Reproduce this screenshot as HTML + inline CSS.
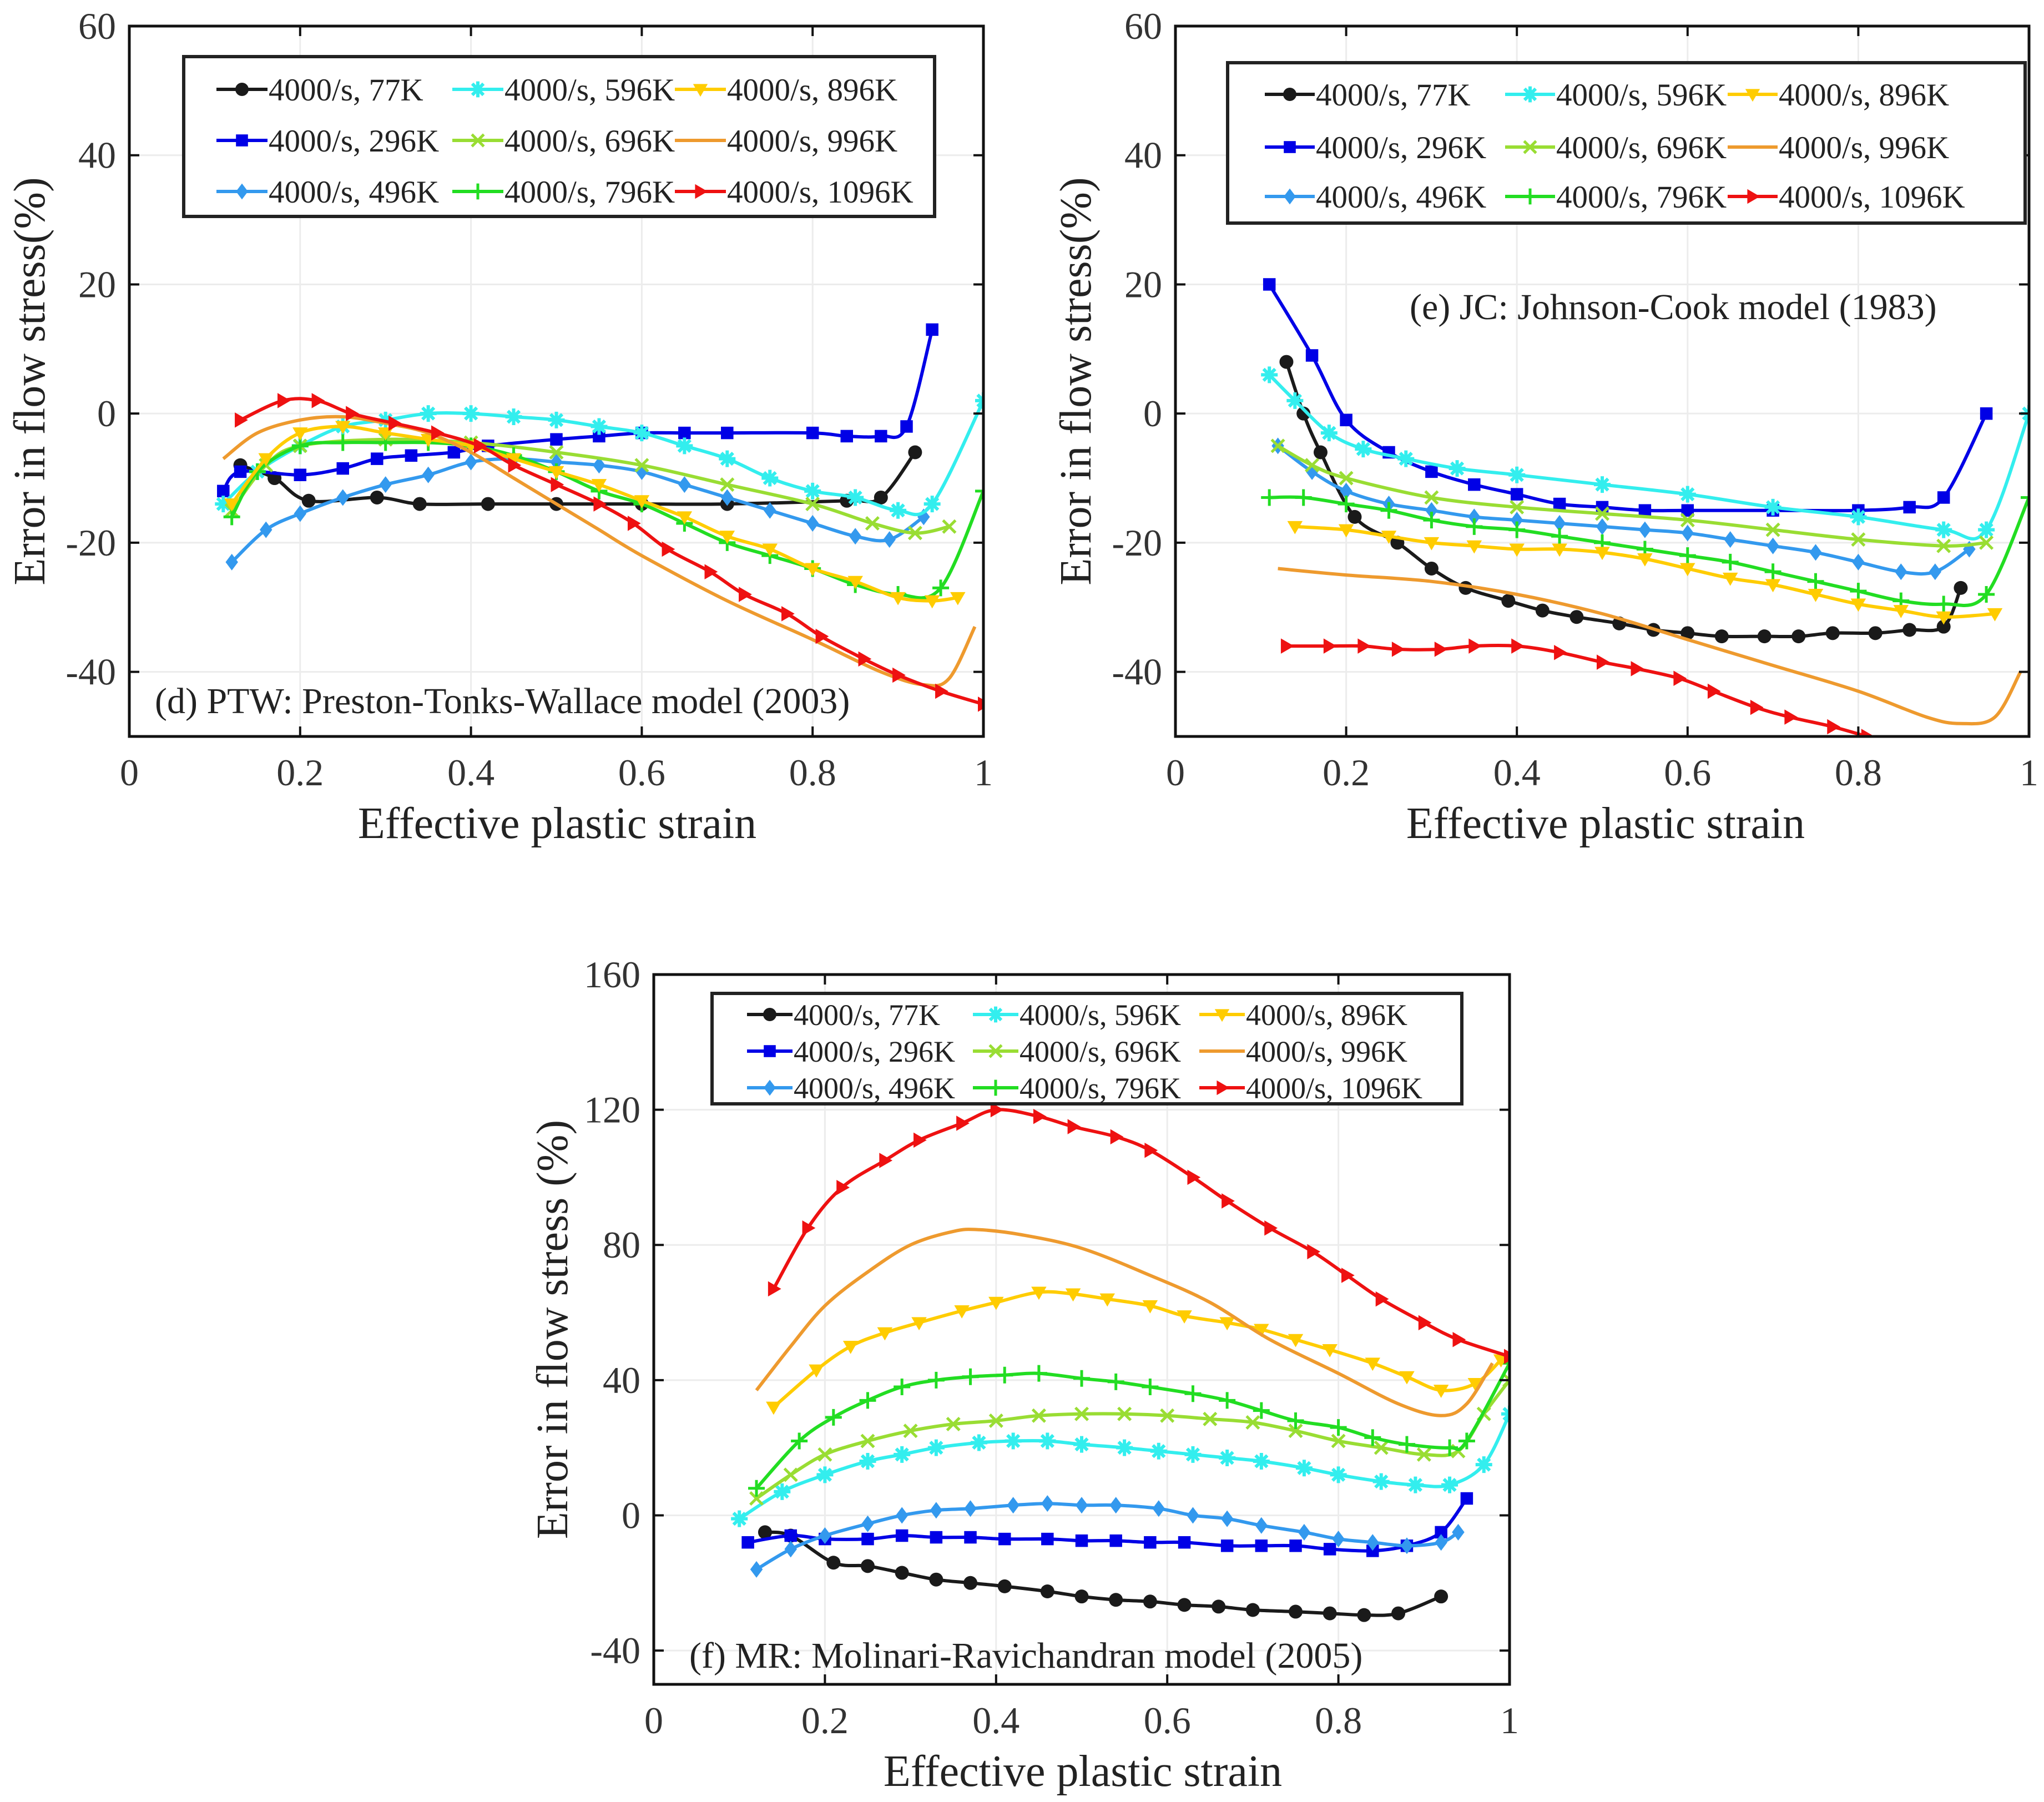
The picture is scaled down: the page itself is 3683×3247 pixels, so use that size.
<!DOCTYPE html>
<html><head><meta charset="utf-8">
<style>
html,body{margin:0;padding:0;background:#fff;}
svg{display:block;font-family:"Liberation Serif",serif;}
</style></head>
<body>
<svg id="fig" width="3683" height="3247" viewBox="0 0 3683 3247" xmlns="http://www.w3.org/2000/svg"></svg>
<script>
// ---- data ----
const seriesNames = ["4000/s, 77K","4000/s, 296K","4000/s, 496K","4000/s, 596K","4000/s, 696K","4000/s, 796K","4000/s, 896K","4000/s, 996K","4000/s, 1096K"];
const xTicks = [0,0.2,0.4,0.6,0.8,1];
const xTickLabels = ["0","0.2","0.4","0.6","0.8","1"];
const yTicksDE = [-40,-20,0,20,40,60];
const yTicksF = [-40,0,40,80,120,160];

// panel d (PTW)
const dX = [
 [0.13,0.17,0.21,0.29,0.34,0.42,0.5,0.6,0.7,0.84,0.88,0.92],
 [0.11,0.13,0.2,0.25,0.29,0.33,0.38,0.42,0.5,0.55,0.6,0.65,0.7,0.8,0.84,0.88,0.91,0.94],
 [0.12,0.16,0.2,0.25,0.3,0.35,0.4,0.45,0.5,0.55,0.6,0.65,0.7,0.75,0.8,0.85,0.89,0.93],
 [0.11,0.15,0.2,0.25,0.3,0.35,0.4,0.45,0.5,0.55,0.6,0.65,0.7,0.75,0.8,0.85,0.9,0.94,1.0],
 [0.12,0.16,0.2,0.3,0.4,0.5,0.6,0.7,0.8,0.87,0.92,0.96],
 [0.12,0.15,0.2,0.25,0.3,0.35,0.4,0.45,0.5,0.55,0.6,0.65,0.7,0.75,0.8,0.85,0.9,0.95,1.0],
 [0.12,0.16,0.2,0.25,0.3,0.35,0.4,0.45,0.5,0.55,0.6,0.65,0.7,0.75,0.8,0.85,0.9,0.94,0.97],
 [0.11,0.15,0.2,0.25,0.3,0.35,0.4,0.45,0.5,0.55,0.6,0.7,0.8,0.88,0.93,0.96,0.99],
 [0.13,0.18,0.22,0.26,0.31,0.36,0.41,0.45,0.5,0.55,0.59,0.63,0.68,0.72,0.77,0.81,0.86,0.9,0.95,1.0]
];
const dY = [
 [-8,-10,-13.5,-13,-14,-14,-14,-14,-14,-13.5,-13,-6],
 [-12,-9,-9.5,-8.5,-7,-6.5,-6,-5,-4,-3.5,-3,-3,-3,-3,-3.5,-3.5,-2,13],
 [-23,-18,-15.5,-13,-11,-9.5,-7.5,-7,-7.5,-8,-9,-11,-13,-15,-17,-19,-19.5,-16],
 [-14,-9,-5,-2,-1,0,0,-0.5,-1,-2,-3,-5,-7,-10,-12,-13,-15,-14,2],
 [-15,-8,-5,-4,-4.5,-6,-8,-11,-14,-17,-18.5,-17.5],
 [-16,-9,-5,-4.5,-4.5,-4.5,-5,-6.5,-9,-12,-14,-17,-20,-22,-24,-26.5,-28,-27,-12],
 [-14,-7,-3,-2,-3,-4,-5,-7,-9,-11,-13.5,-16,-19,-21,-24,-26,-28.5,-29,-28.5],
 [-7,-3,-1,-0.5,-1.5,-3,-6,-10,-14,-18,-22,-29,-35,-40,-42,-41,-33],
 [-1,2,2,0,-1.5,-3,-5,-8,-11,-14,-17,-21,-24.5,-28,-31,-34.5,-38,-40.5,-43,-45]
];
// panel e (JC)
const eX = [
 [0.13,0.15,0.17,0.21,0.26,0.3,0.34,0.39,0.43,0.47,0.52,0.56,0.6,0.64,0.69,0.73,0.77,0.82,0.86,0.9,0.92],
 [0.11,0.16,0.2,0.25,0.3,0.35,0.4,0.45,0.5,0.55,0.6,0.7,0.8,0.86,0.9,0.95],
 [0.12,0.16,0.2,0.25,0.3,0.35,0.4,0.45,0.5,0.55,0.6,0.65,0.7,0.75,0.8,0.85,0.89,0.93],
 [0.11,0.14,0.18,0.22,0.27,0.33,0.4,0.5,0.6,0.7,0.8,0.9,0.95,1.0],
 [0.12,0.16,0.2,0.3,0.4,0.5,0.6,0.7,0.8,0.9,0.95],
 [0.11,0.15,0.2,0.25,0.3,0.35,0.4,0.45,0.5,0.55,0.6,0.65,0.7,0.75,0.8,0.85,0.9,0.95,1.0],
 [0.14,0.2,0.25,0.3,0.35,0.4,0.45,0.5,0.55,0.6,0.65,0.7,0.75,0.8,0.85,0.9,0.96],
 [0.12,0.2,0.3,0.4,0.5,0.6,0.7,0.8,0.88,0.92,0.96,0.99],
 [0.13,0.18,0.22,0.26,0.31,0.35,0.4,0.45,0.5,0.54,0.59,0.63,0.68,0.72,0.77,0.81]
];
const eY = [
 [8,0,-6,-16,-20,-24,-27,-29,-30.5,-31.5,-32.5,-33.5,-34,-34.5,-34.5,-34.5,-34,-34,-33.5,-33,-27],
 [20,9,-1,-6,-9,-11,-12.5,-14,-14.5,-15,-15,-15,-15,-14.5,-13,0],
 [-5,-9,-12,-14,-15,-16,-16.5,-17,-17.5,-18,-18.5,-19.5,-20.5,-21.5,-23,-24.5,-24.5,-21],
 [6,2,-3,-5.5,-7,-8.5,-9.5,-11,-12.5,-14.5,-16,-18,-18,0],
 [-5,-8,-10,-13,-14.5,-15.5,-16.5,-18,-19.5,-20.5,-20],
 [-13,-13,-14,-15,-16.5,-17.5,-18,-19,-20,-21,-22,-23,-24.5,-26,-27.5,-29,-29.5,-28,-13],
 [-17.5,-18,-19,-20,-20.5,-21,-21,-21.5,-22.5,-24,-25.5,-26.5,-28,-29.5,-30.5,-31.5,-31],
 [-24,-25,-26,-28,-31,-35,-39,-43,-47,-48,-47,-40],
 [-36,-36,-36,-36.5,-36.5,-36,-36,-37,-38.5,-39.5,-41,-43,-45.5,-47,-48.5,-50]
];
// panel f (MR)
const fX = [
 [0.13,0.16,0.21,0.25,0.29,0.33,0.37,0.41,0.46,0.5,0.54,0.58,0.62,0.66,0.7,0.75,0.79,0.83,0.87,0.92],
 [0.11,0.16,0.2,0.25,0.29,0.33,0.37,0.41,0.46,0.5,0.54,0.58,0.62,0.67,0.71,0.75,0.79,0.84,0.88,0.92,0.95],
 [0.12,0.16,0.2,0.25,0.29,0.33,0.37,0.42,0.46,0.5,0.54,0.59,0.63,0.67,0.71,0.76,0.8,0.84,0.88,0.92,0.94],
 [0.1,0.15,0.2,0.25,0.29,0.33,0.38,0.42,0.46,0.5,0.55,0.59,0.63,0.67,0.71,0.76,0.8,0.85,0.89,0.93,0.97,1.0],
 [0.12,0.16,0.2,0.25,0.3,0.35,0.4,0.45,0.5,0.55,0.6,0.65,0.7,0.75,0.8,0.85,0.9,0.94,0.97,1.0],
 [0.12,0.17,0.21,0.25,0.29,0.33,0.37,0.41,0.45,0.5,0.54,0.58,0.63,0.67,0.71,0.75,0.8,0.84,0.88,0.93,0.95,1.0],
 [0.14,0.19,0.23,0.27,0.31,0.36,0.4,0.45,0.49,0.53,0.58,0.62,0.67,0.71,0.75,0.79,0.84,0.88,0.92,0.96,0.99],
 [0.12,0.16,0.2,0.25,0.3,0.35,0.38,0.43,0.5,0.58,0.65,0.72,0.8,0.87,0.92,0.95,0.98],
 [0.14,0.18,0.22,0.27,0.31,0.36,0.4,0.45,0.49,0.54,0.58,0.63,0.67,0.72,0.77,0.81,0.85,0.9,0.94,1.0]
];
const fY = [
 [-5,-6,-14,-15,-17,-19,-20,-21,-22.5,-24,-25,-25.5,-26.5,-27,-28,-28.5,-29,-29.5,-29,-24],
 [-8,-6,-7,-7,-6,-6.5,-6.5,-7,-7,-7.5,-7.5,-8,-8,-9,-9,-9,-10,-10.5,-9,-5,5],
 [-16,-10,-6,-2.5,0,1.5,2,3,3.5,3,3,2,0,-1,-3,-5,-7,-8,-9,-8,-5],
 [-1,7,12,16,18,20,21.5,22,22,21,20,19,18,17,16,14,12,10,9,9,15,30],
 [5,12,18,22,25,27,28,29.5,30,30,29.5,28.5,27.5,25,22,20,18,19,30,40],
 [8,22,29,34,38,40,41,41.5,42,40.5,39.5,38,36,34,31,28,26,23,21,20,22,45],
 [32,43,50,54,57,60.5,63,66,65.5,64,62,59,57,55,52,49,45,41,37,39,46],
 [37,50,62,72,80,84,84.5,83,79,71,63,52,42,33,29.5,33,45],
 [67,85,97,105,111,116,120,118,115,112,108,100,93,85,78,71,64,57,52,47]
];

// ---- styles ----
const colors = ["#1a1a1a","#0000e6","#3399ee","#33eeee","#99dd33","#22dd22","#ffcc00","#ee9a2e","#ee1111"];
const markers = ["circle","square","diamond","star","x","plus","tri-down","none","tri-right"];

const svg = document.getElementById('fig');
const NS = "http://www.w3.org/2000/svg";
function mk(tag, attrs, parent){
  const e = document.createElementNS(NS, tag);
  for (const k in attrs) e.setAttribute(k, attrs[k]);
  (parent||svg).appendChild(e);
  return e;
}
function smoothPath(pts){
  if(pts.length<2) return "";
  let d = "M"+pts[0][0].toFixed(1)+","+pts[0][1].toFixed(1);
  for(let i=0;i<pts.length-1;i++){
    const p0=pts[i-1]||pts[i], p1=pts[i], p2=pts[i+1], p3=pts[i+2]||p2;
    const c1=[p1[0]+(p2[0]-p0[0])/6, p1[1]+(p2[1]-p0[1])/6];
    const c2=[p2[0]-(p3[0]-p1[0])/6, p2[1]-(p3[1]-p1[1])/6];
    d+=" C"+c1[0].toFixed(1)+","+c1[1].toFixed(1)+" "+c2[0].toFixed(1)+","+c2[1].toFixed(1)+" "+p2[0].toFixed(1)+","+p2[1].toFixed(1);
  }
  return d;
}
function drawMarker(g, type, x, y, c, s){
  let e;
  if(type==="circle"){ e=mk('circle',{cx:x,cy:y,r:s*0.5,fill:c},g); }
  else if(type==="square"){ e=mk('rect',{x:x-s*0.45,y:y-s*0.45,width:s*0.9,height:s*0.9,fill:c},g); }
  else if(type==="diamond"){ e=mk('polygon',{points:`${x},${y-s*0.6} ${x+s*0.45},${y} ${x},${y+s*0.6} ${x-s*0.45},${y}`,fill:c},g); }
  else if(type==="star"){ e=mk('path',{d:`M${x-s*0.6},${y}H${x+s*0.6}M${x},${y-s*0.6}V${y+s*0.6}M${x-s*0.42},${y-s*0.42}L${x+s*0.42},${y+s*0.42}M${x-s*0.42},${y+s*0.42}L${x+s*0.42},${y-s*0.42}`,stroke:c,'stroke-width':6,fill:'none'},g); }
  else if(type==="x"){ e=mk('path',{d:`M${x-s*0.45},${y-s*0.45}L${x+s*0.45},${y+s*0.45}M${x-s*0.45},${y+s*0.45}L${x+s*0.45},${y-s*0.45}`,stroke:c,'stroke-width':5,fill:'none'},g); }
  else if(type==="plus"){ e=mk('path',{d:`M${x-s*0.6},${y}H${x+s*0.6}M${x},${y-s*0.6}V${y+s*0.6}`,stroke:c,'stroke-width':5,fill:'none'},g); }
  else if(type==="tri-down"){ e=mk('polygon',{points:`${x-s*0.55},${y-s*0.4} ${x+s*0.55},${y-s*0.4} ${x},${y+s*0.55}`,fill:c},g); }
  else if(type==="tri-right"){ e=mk('polygon',{points:`${x-s*0.4},${y-s*0.55} ${x-s*0.4},${y+s*0.55} ${x+s*0.55},${y}`,fill:c},g); }
  if(e){
    
    
  }
}

function panel(cfg){
  const {id,L,R,T,B,ymin,ymax,yTicks,Xs,Ys,ylabel,ylx,xlx,xly,note,noteX,noteY,leg,legFont} = cfg;
  const g = mk('g',{});
  
  
  const sx = v => L + v*(R-L);
  const sy = v => B - (v-ymin)/(ymax-ymin)*(B-T);
  const grid = mk('g',{},g);
  
  
  xTicks.forEach(v=>{ mk('line',{x1:sx(v),x2:sx(v),y1:T,y2:B,stroke:'#ececec','stroke-width':3},grid); });
  yTicks.forEach(v=>{ mk('line',{x1:L,x2:R,y1:sy(v),y2:sy(v),stroke:'#ececec','stroke-width':3},grid); });
  const cp = mk('clipPath',{id:'clip-'+id},g);
  mk('rect',{x:L,y:T,width:R-L,height:B-T},cp);
  const data = mk('g',{'clip-path':`url(#clip-${id})`},g);
  
  
  for(let s=0;s<seriesNames.length;s++){
    const sg = mk('g',{},data);
    
    
    const pts = Xs[s].map((x,i)=>[sx(x),sy(Ys[s][i])]);
    const p = mk('path',{d:smoothPath(pts),fill:'none',stroke:colors[s],'stroke-width':6},sg);
    
    
    pts.forEach(pt=>drawMarker(sg,markers[s],pt[0],pt[1],colors[s],25));
  }
  const ax = mk('g',{},g);
  
  
  mk('rect',{x:L,y:T,width:R-L,height:B-T,fill:'none',stroke:'#111','stroke-width':5},ax);
  xTicks.forEach((v,i)=>{
    mk('line',{x1:sx(v),x2:sx(v),y1:B,y2:B-18,stroke:'#111','stroke-width':4},ax);
    mk('line',{x1:sx(v),x2:sx(v),y1:T,y2:T+18,stroke:'#111','stroke-width':4},ax);
    const t = mk('text',{x:sx(v),y:B+88,'font-size':68,'text-anchor':'middle',fill:'#333'},ax);
    
    
    t.textContent = xTickLabels[i];
  });
  yTicks.forEach(v=>{
    mk('line',{x1:L,x2:L+18,y1:sy(v),y2:sy(v),stroke:'#111','stroke-width':4},ax);
    mk('line',{x1:R,x2:R-18,y1:sy(v),y2:sy(v),stroke:'#111','stroke-width':4},ax);
    const t = mk('text',{x:L-24,y:sy(v)+23,'font-size':68,'text-anchor':'end',fill:'#333'},ax);
    
    
    t.textContent = String(v);
  });
  const xl = mk('text',{x:xlx,y:xly,'font-size':80,'text-anchor':'middle',fill:'#222'},g);
  
  
  xl.textContent = "Effective plastic strain";
  const yl = mk('text',{x:0,y:0,'font-size':80,'text-anchor':'middle',fill:'#222',transform:`translate(${ylx},${(T+B)/2}) rotate(-90)`},g);
  
  
  yl.textContent = ylabel;
  const nt = mk('text',{x:noteX,y:noteY,'font-size':66,fill:'#222'},g);
  
  
  nt.textContent = note;
  const lg = mk('g',{},g);
  
  
  mk('rect',{x:leg.x,y:leg.y,width:leg.w,height:leg.h,fill:'#fff',stroke:'#222','stroke-width':6},lg);
  for(let s=0;s<9;s++){
    const col = Math.floor(s/3), row = s%3;
    const lx = leg.cols[col], ly = leg.rows[row];
    const eg = mk('g',{},lg);
    
    
    mk('line',{x1:lx,x2:lx+leg.len,y1:ly,y2:ly,stroke:colors[s],'stroke-width':6},eg);
    drawMarker(eg,markers[s],lx+leg.len/2,ly,colors[s],24);
    const t = mk('text',{x:lx+leg.len+2,y:ly+legFont*0.35,'font-size':legFont,fill:'#222'},eg);
    t.textContent = seriesNames[s];
  }
}

panel({id:'d',L:233,R:1772,T:47,B:1327,ymin:-50,ymax:60,yTicks:yTicksDE,Xs:dX,Ys:dY,
  ylabel:"Error in flow stress(%)",ylx:80,xlx:1004,xly:1510,
  note:"(d) PTW: Preston-Tonks-Wallace model (2003)",noteX:279,noteY:1285,
  leg:{x:331,y:102,w:1353,h:288,cols:[390,815,1216],rows:[161,253,345],len:92},legFont:57});
panel({id:'e',L:2118,R:3656,T:47,B:1327,ymin:-50,ymax:60,yTicks:yTicksDE,Xs:eX,Ys:eY,
  ylabel:"Error in flow stress(%)",ylx:1965,xlx:2893,xly:1510,
  note:"(e) JC: Johnson-Cook model (1983)",noteX:2540,noteY:575,
  leg:{x:2212,y:113,w:1437,h:289,cols:[2279,2712,3113],rows:[170,265,354],len:90},legFont:57});
panel({id:'f',L:1178,R:2720,T:1756,B:3035,ymin:-50,ymax:160,yTicks:yTicksF,Xs:fX,Ys:fY,
  ylabel:"Error in flow stress (%)",ylx:1022,xlx:1951,xly:3218,
  note:"(f) MR: Molinari-Ravichandran model (2005)",noteX:1242,noteY:3005,
  leg:{x:1283,y:1790,w:1351,h:199,cols:[1346,1753,2161],rows:[1828,1894,1960],len:82},legFont:54});
</script>
</body></html>
